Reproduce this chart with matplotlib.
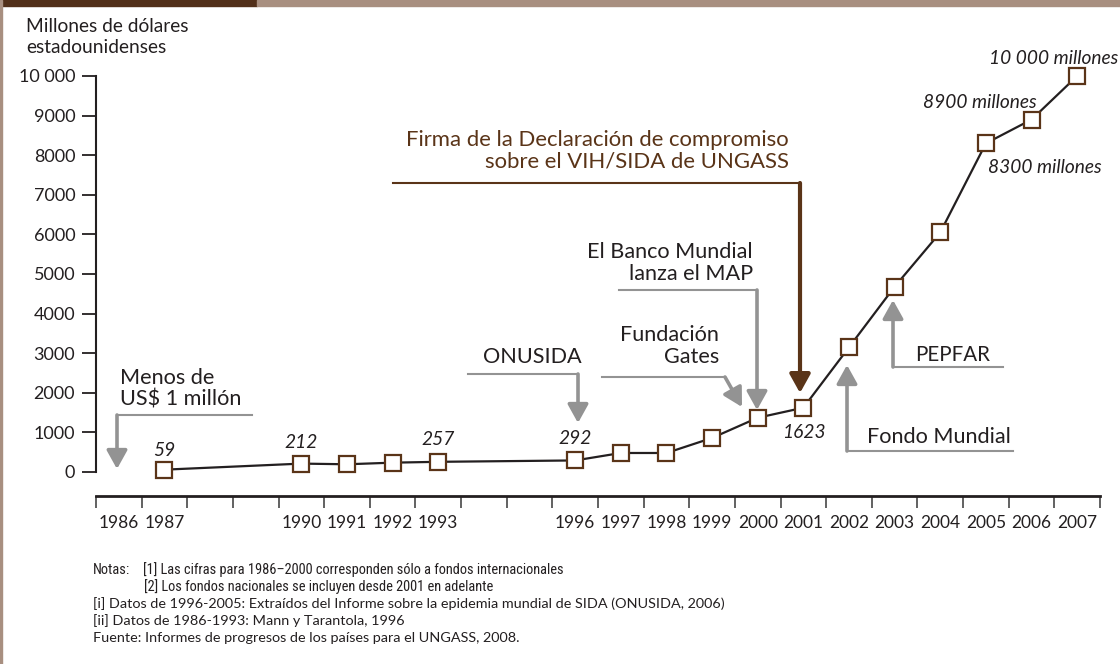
import os
import matplotlib
matplotlib.use("Agg")
import matplotlib.pyplot as plt
from matplotlib.patches import Rectangle
from matplotlib import font_manager as fm
import numpy as np

plt.rcParams['font.family'] = ['Lato', 'DejaVu Sans']

# ---- data ----
years = [1987, 1990, 1991, 1992, 1993, 1996, 1997, 1998, 1999, 2000,
         2001, 2002, 2003, 2004, 2005, 2006, 2007]
values = [59, 212, 195, 236, 257, 292, 480, 480, 860, 1370,
          1623, 3150, 4680, 6050, 8300, 8900, 10000]
xtick_years = [1986, 1987, 1990, 1991, 1992, 1993, 1996, 1997, 1998, 1999,
               2000, 2001, 2002, 2003, 2004, 2005, 2006, 2007]
ytick_values = [0, 1000, 2000, 3000, 4000, 5000, 6000, 7000, 8000, 9000, 10000]
ytick_labels = ['0', '1000', '2000', '3000', '4000', '5000', '6000', '7000',
                '8000', '9000', '10 000']
value_labels = {1987: '59', 1990: '212', 1993: '257', 1996: '292', 2001: '1623',
                2005: '8300 millones', 2006: '8900 millones', 2007: '10 000 millones'}

BROWN = '#5a3418'
GRAY = '#939393'
DARK = '#231f20'

W, H = 1120, 664
fig = plt.figure(figsize=(W / 100, H / 100), dpi=100)
renderer = fig.canvas.get_renderer()


def find_condensed():
    order = ['LiberationSansNarrow', 'RobotoCondensed', 'NotoSans-Condensed', 'NotoSansCondensed',
             'OpenSans-Condensed', 'OpenSansCondensed', 'DejaVuSansCondensed']
    cands = []
    for f in fm.fontManager.ttflist:
        b = os.path.basename(f.fname)
        if not any(k in b for k in ('Condensed', 'Narrow')):
            continue
        if any(k in b for k in ('Bold', 'Italic', 'Light', 'Thin', 'Medium', 'Black', 'Semi',
                                'Extra', 'Mono', 'Serif', 'Oblique')):
            continue
        cands.append(f.fname)
    for key in order:
        for c in cands:
            if os.path.basename(c).startswith(key):
                return c
    return cands[0] if cands else None


def fit_size(s, target_px, base=12, **kw):
    t = fig.text(0, 0, s, fontsize=base, **kw)
    w = t.get_window_extent(renderer).width
    t.remove()
    return base * target_px / w


# frame decorations
fig.patches.append(Rectangle((0, 1 - 6 / H), 257 / W, 6 / H, transform=fig.transFigure,
                             color='#52301a', zorder=0))
fig.patches.append(Rectangle((257 / W, 1 - 6 / H), 1 - 257 / W, 6 / H, transform=fig.transFigure,
                             color='#a88f80', zorder=0))
fig.patches.append(Rectangle((0, 0), 2.2 / W, 1, transform=fig.transFigure,
                             color='#a88f80', zorder=0))

# axes: x from 1985.5 (px 96) to 2007.5 (px 1100); y 0 at px 472, 39.6 px / 1000
ymin, ymax = -1200, 11000
ppk = 39.6
top_px = 472 - ymax / 1000 * ppk
bot_px = 472 - ymin / 1000 * ppk
ax = fig.add_axes([96 / W, 1 - bot_px / H, (1100 - 96) / W, (bot_px - top_px) / H])
ax.set_xlim(1985.5, 2007.5)
ax.set_ylim(ymin, ymax)
ax.patch.set_alpha(0)

for s in ['top', 'right']:
    ax.spines[s].set_visible(False)
ax.spines['left'].set_bounds(0, 10000)
ax.spines['left'].set_linewidth(1.5)
ax.spines['left'].set_color(DARK)
ax.spines['bottom'].set_position(('data', -600))
ax.spines['bottom'].set_bounds(1985.5, 2007.5)
ax.spines['bottom'].set_linewidth(2.0)
ax.spines['bottom'].set_color(DARK)

ax.set_yticks(ytick_values)
ax.set_yticklabels(ytick_labels)
ax.tick_params(axis='y', length=10, width=1.3, pad=5, labelsize=13, colors=DARK)

ax.set_xticks(np.arange(1985.5, 2008, 1.0))
ax.set_xticklabels([])
ax.tick_params(axis='x', which='major', length=8.5, width=1.3, color='#555555')
ax.set_xticks(xtick_years, minor=True)
ax.set_xticklabels([str(y) for y in xtick_years], minor=True)
ax.tick_params(axis='x', which='minor', length=0, pad=14, labelsize=12.5, labelcolor=DARK)

# data line
ax.plot(years, values, color=DARK, lw=1.6, zorder=3,
        marker='s', markersize=12, markerfacecolor='white',
        markeredgecolor=BROWN, markeredgewidth=1.6)

# value labels
vlsize = fit_size('10 000 millones', 129, style='italic')
vd = dict(zip(years, values))
offs = {1987: (0, 10, 'center', 'baseline'), 1990: (0, 11.5, 'center', 'baseline'),
        1993: (0, 12, 'center', 'baseline'), 1996: (0, 12, 'center', 'baseline'),
        2001: (0, -21.5, 'center', 'baseline'), 2005: (1.5, -21.5, 'left', 'baseline'),
        2006: (3.6, 8.5, 'right', 'baseline'), 2007: (-17, 8.5, 'center', 'baseline')}
for yr, txt in value_labels.items():
    dx, dy, ha, va = offs[yr]
    ax.annotate(txt, (yr, vd[yr]), xytext=(dx, dy), textcoords='offset points',
                ha=ha, va=va, fontsize=vlsize, style='italic', color=DARK)


def px2d(px, py):
    return 1985.5 + (px - 96) / 45.636, (472 - py) / ppk * 1000


def arrow(pts, color, lw=2.6, lw_line=1.5, hl=0.9, hw=0.5, ms=12.5):
    pts = [px2d(*p) for p in pts]
    if len(pts) > 2:
        xs, ys = zip(*pts[:-1])
        ax.plot(xs, ys, color=color, lw=lw_line, solid_capstyle='projecting',
                solid_joinstyle='miter', zorder=2)
    ax.annotate('', xy=pts[-1], xytext=pts[-2],
                arrowprops=dict(arrowstyle=f'-|>,head_length={hl},head_width={hw}',
                                mutation_scale=ms, lw=lw, color=color,
                                shrinkA=0, shrinkB=0), zorder=2)


def text_px(px, py, s, **kw):
    x, y = px2d(px, py)
    ax.text(x, y, s, **kw)


asize = fit_size('El Banco Mundial', 165)
fsize = fit_size('Firma de la Declaración de compromiso', 382)

# Menos de US$ 1 millón
arrow([(252, 415), (117, 415), (117, 469)], GRAY)
text_px(120, 389, 'Menos de\nUS$ 1 millón', ha='left', va='center', fontsize=asize,
        color=DARK, linespacing=1.1)

# ONUSIDA
arrow([(468, 374), (578, 374), (578, 423)], GRAY)
text_px(532, 357, 'ONUSIDA', ha='center', va='center', fontsize=asize, color=DARK)

# Fundación Gates
arrow([(602, 377), (725, 377), (742, 407)], GRAY)
text_px(719, 346, 'Fundación\nGates', ha='right', va='center', fontsize=asize,
        color=DARK, linespacing=1.1, multialignment='right')

# El Banco Mundial lanza el MAP
arrow([(619, 290), (757, 290), (757, 410)], GRAY)
text_px(753, 263, 'El Banco Mundial\nlanza el MAP', ha='right', va='center', fontsize=asize,
        color=DARK, linespacing=1.1, multialignment='right')

# Firma de la Declaración
arrow([(393, 183), (800, 183), (800, 393)], BROWN, lw=3.0, lw_line=1.5, hw=0.5)
text_px(789, 151, 'Firma de la Declaración de compromiso\nsobre el VIH/SIDA de UNGASS',
        ha='right', va='center', fontsize=fsize, color=BROWN, linespacing=1.1,
        multialignment='right')

# PEPFAR
arrow([(1003, 367), (893, 367), (893, 300)], GRAY)
text_px(915, 355, 'PEPFAR', ha='left', va='center', fontsize=asize * 0.95, color=DARK)

# Fondo Mundial
arrow([(1013, 451), (847, 451), (847, 365)], GRAY)
text_px(867, 437, 'Fondo Mundial', ha='left', va='center', fontsize=asize, color=DARK)

# y title
tsize = fit_size('Millones de dólares', 163)
fig.text(26 / W, 1 - 37 / H, 'Millones de dólares\nestadounidenses', ha='left', va='center',
         fontsize=tsize, color=DARK, linespacing=1.25)

# notes
line1 = '[1] Las cifras para 1986–2000 corresponden sólo a fondos internacionales'
line2 = '[2] Los fondos nacionales se incluyen desde 2001 en adelante'
line3 = '[i] Datos de 1996-2005: Extraídos del Informe sobre la epidemia mundial de SIDA (ONUSIDA, 2006)'
line4 = '[ii] Datos de 1986-1993: Mann y Tarantola, 1996'
line5 = 'Fuente: Informes de progresos de los países para el UNGASS, 2008.'
rsize = fit_size(line5, 425)
cond = find_condensed()
if cond:
    cprops = dict(fontproperties=fm.FontProperties(fname=cond, size=rsize))
else:
    cprops = dict(fontsize=0.92 * rsize)
nf = dict(color=DARK, va='center', ha='left')
fig.text(93 / W, 1 - 570 / H, 'Notas:', **nf, **cprops)
fig.text(143 / W, 1 - 570 / H, line1, **nf, **cprops)
fig.text(144 / W, 1 - 587 / H, line2, **nf, **cprops)
fig.text(93 / W, 1 - 604 / H, line3, fontsize=rsize, **nf)
fig.text(93 / W, 1 - 621 / H, line4, fontsize=rsize, **nf)
fig.text(93 / W, 1 - 638 / H, line5, fontsize=rsize, **nf)

fig.savefig('out.png', dpi=100)
